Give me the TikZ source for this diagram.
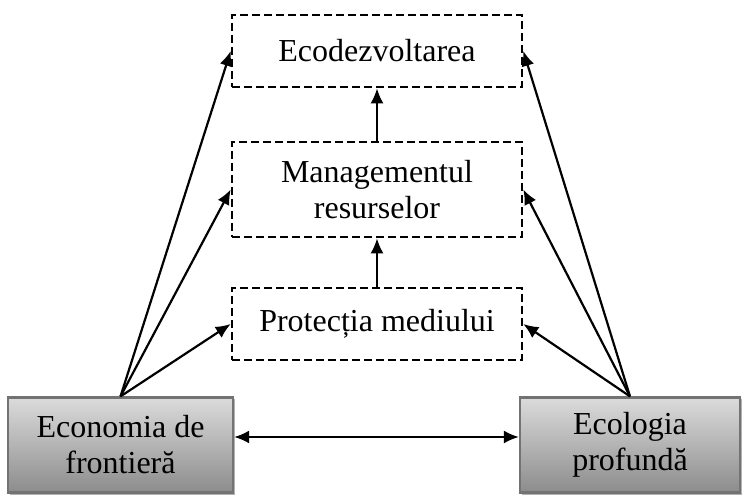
\documentclass[tikz,border=0pt]{standalone}
\usepackage{fontspec}
\setmainfont{Liberation Serif}
\usetikzlibrary{shapes,arrows.meta,positioning,shadows}

\begin{document}
\begin{tikzpicture}[x=0.5pt,y=-0.5pt,->,>={Latex[length=7.5pt,width=6.5pt]},line width=1.1pt,
    every node/.style = {align=center, font=\fontsize{16}{18}\selectfont},
    stage/.style = {shape=rectangle, draw, line width=1.3pt, dash pattern=on 4pt off 2pt,
        minimum width=145pt},
    pole/.style = {shape=rectangle, draw=black!55, top color=black!14,
        middle color=black!2, bottom color=black!45, minimum height=47.5pt,
        drop shadow={shadow xshift=1pt, shadow yshift=-1pt, fill=black!30, opacity=1}}]
    \useasboundingbox (0,0) rectangle (744,496);
      \node [stage, minimum height=36pt] (eco) at (377,51) {Ecodezvoltarea};
      \node [stage, minimum height=47.5pt] (mgmt) at (377,189.5) {Managementul\\resurselor};
      \node [stage, minimum height=36pt] (prot) at (377,324) {Protecția mediului};
      \node [pole, minimum width=112.5pt] (econ) at (120.5,445) {Economia de\\frontieră};
      \node [pole, minimum width=110pt] (ecol) at (630,445) {Ecologia\\profundă};
      % vertical chain
      \draw (prot) -- (mgmt);
      \draw (mgmt) -- (eco);
      % from both poles to every stage
      \foreach \t in {eco,mgmt,prot} {
        \draw (econ.north) -- (\t.west);
        \draw (ecol.north) -- (\t.east);
      }
      \draw [<->] ([yshift=4pt]econ.east) -- ([yshift=4pt]ecol.west);
    \end{tikzpicture}
\end{document}
